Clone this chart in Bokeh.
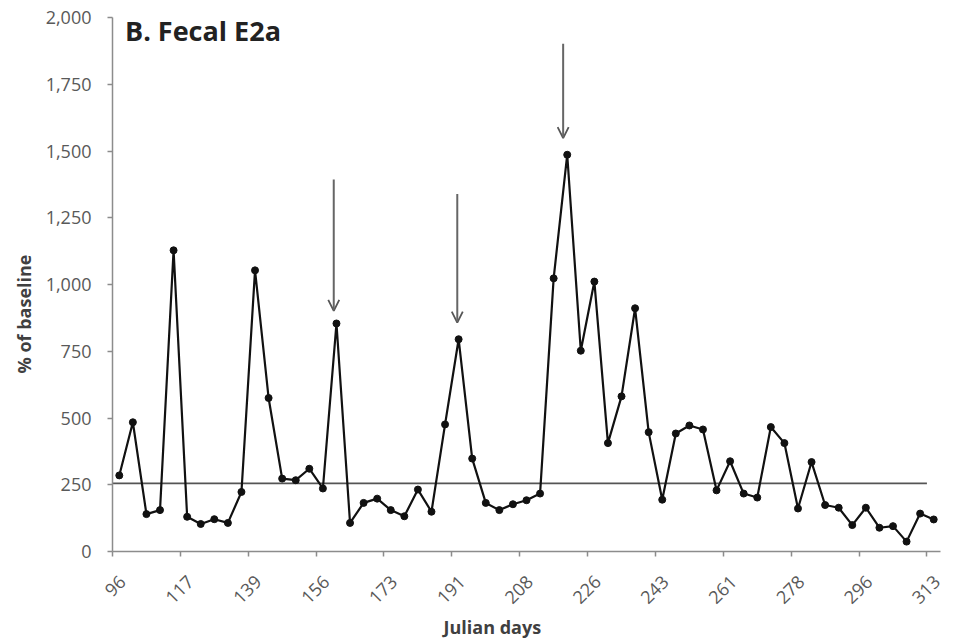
from math import pi
from bokeh.plotting import figure
from bokeh.models import (Range1d, FixedTicker, NumeralTickFormatter, Label, Title,
                          Arrow, OpenHead, ColumnDataSource)
from bokeh.embed import file_html
from bokeh.resources import INLINE

# ---- data ----
values = [285, 484, 140, 155, 1128, 130, 103, 121, 107, 223,
          1053, 575, 273, 267, 310, 236, 854, 107, 182, 198,
          155, 132, 232, 149, 476, 795, 348, 182, 155, 177,
          192, 217, 1023, 1486, 752, 1011, 406, 581, 911, 447,
          194, 442, 472, 457, 229, 338, 217, 202, 466, 406,
          161, 335, 174, 164, 99, 164, 89, 95, 37, 142, 120]
tick_labels = ["96", "117", "139", "156", "173", "191", "208", "226",
               "243", "261", "278", "296", "313"]
baseline_value = 255
arrow_pos = [16.3, 25.4, 33.2]        # category position of arrows
arrow_top = [1393, 1339, 1902]
arrow_tip = [901, 857, 1548]
y_ticks = [0, 250, 500, 750, 1000, 1250, 1500, 1750, 2000]

n = len(values)
xs = [i + 0.5 for i in range(n)]
tick_pos = [i * 5 for i in range(len(tick_labels))]
label_shift = 0.74   # rotated labels end a little to the right of their tick
label_pos = [t + label_shift for t in tick_pos]

FONT = "Open Sans"
GRAY_TXT = "#595959"

p = figure(width=947, height=642, output_backend="svg", toolbar_location=None,
           x_range=Range1d(0, n), y_range=Range1d(0, 2000),
           min_border_left=112, min_border_right=7,
           min_border_top=17, min_border_bottom=91)
p.outline_line_color = None
p.xgrid.grid_line_color = None
p.ygrid.grid_line_color = None
p.background_fill_color = "white"

# axes
p.yaxis.ticker = FixedTicker(ticks=y_ticks)
p.yaxis.formatter = NumeralTickFormatter(format="0,0")
# major ticks (invisible) carry the shifted labels, minor ticks draw the marks
p.xaxis.ticker = FixedTicker(ticks=label_pos, minor_ticks=tick_pos)
p.xaxis.major_label_overrides = {lp: lab for lp, lab in zip(label_pos, tick_labels)}
p.xaxis.major_label_orientation = pi / 4
for ax in (p.xaxis, p.yaxis):
    ax.axis_line_color = "#8c8c8c"
    ax.axis_line_width = 1.5
    ax.major_tick_line_color = "#8c8c8c"
    ax.major_tick_out = 5
    ax.major_tick_in = 0
    ax.minor_tick_line_color = None
    ax.major_label_text_font = FONT
    ax.major_label_text_font_size = "18px"
    ax.major_label_text_color = GRAY_TXT
p.xaxis.major_tick_line_color = None
p.xaxis.minor_tick_line_color = "#8c8c8c"
p.xaxis.minor_tick_line_width = 1.5
p.xaxis.minor_tick_out = 5
p.xaxis.minor_tick_in = 0
p.yaxis.major_tick_line_width = 1.5
p.yaxis.major_label_standoff = 16
p.xaxis.major_label_standoff = 22

# axis titles (offset like the original's chart-area centring)
p.add_layout(Title(text="% of baseline", align="left", offset=178, standoff=13,
                   text_font=FONT, text_font_size="18px", text_font_style="bold",
                   text_color="#404040"), "left")
p.add_layout(Title(text="Julian days", align="left", offset=331, standoff=1,
                   text_font=FONT, text_font_size="18px", text_font_style="bold",
                   text_color="#404040"), "below")

# baseline
p.line([0, n - 1], [baseline_value, baseline_value], line_color="#555555", line_width=1.8)

# series
src = ColumnDataSource(dict(x=xs, y=values))
p.line("x", "y", source=src, line_color="#111111", line_width=2.2)
p.scatter("x", "y", source=src, marker="circle", size=7, fill_color="#111111",
          line_color="#111111")

# arrows
for ax_, top, tip in zip(arrow_pos, arrow_top, arrow_tip):
    p.add_layout(Arrow(end=OpenHead(size=11, line_color="#555555", line_width=1.8),
                       x_start=ax_, y_start=top, x_end=ax_, y_end=tip,
                       line_color="#666666", line_width=2))

# panel title
p.add_layout(Label(x=12.5, y=521, x_units="screen", y_units="screen",
                   text="B. Fecal E2a", text_font=FONT, text_font_size="27px",
                   text_font_style="bold", text_color="#222222",
                   text_baseline="alphabetic"))

open("out.html", "w").write(file_html(p, INLINE))
